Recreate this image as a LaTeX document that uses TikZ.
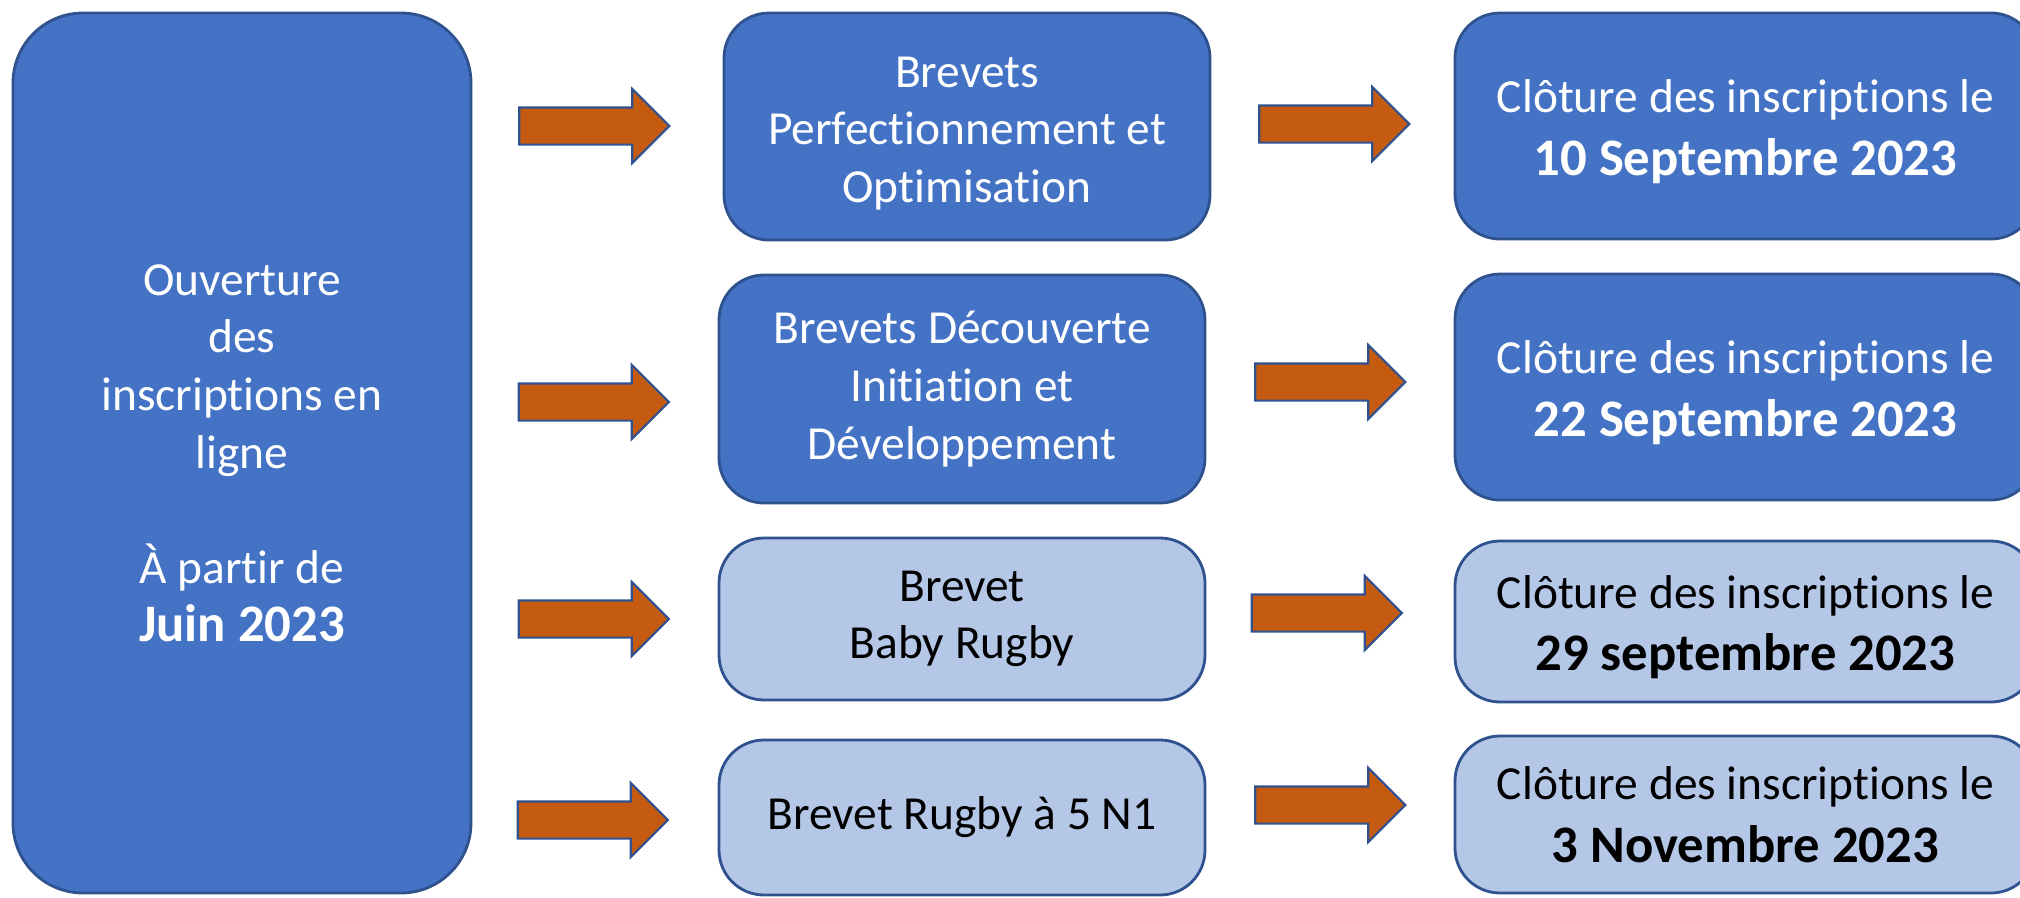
\documentclass[tikz,border=0pt]{standalone}
\usepackage{fontspec}
\setmainfont{Carlito}[Ligatures=NoCommon]
\usetikzlibrary{shapes.arrows}
\definecolor{boxblue}{HTML}{4472C4}
\definecolor{lineblue}{HTML}{2F528F}
\definecolor{paleblue}{HTML}{B4C7E7}
\definecolor{rust}{HTML}{C55A11}
\tikzset{
    darkbox/.style={draw=lineblue,line width=0.8pt,fill=boxblue,text=white,
        rounded corners=0.45cm,align=center,inner sep=0pt,
        font=\fontsize{13.5}{16.4}\selectfont},
    lightbox/.style={darkbox,fill=paleblue,text=black},
    blockarr/.style={single arrow,draw=lineblue,line width=0.6pt,fill=rust,
        minimum height=1.5cm,minimum width=0.72cm,inner xsep=0pt,inner ysep=0.175cm,
        single arrow head extend=0.185cm}
}
\newcommand{\datebf}[1]{{\fontsize{15}{17}\selectfont\bfseries #1}}
\newcommand{\topgap}{\rule{0pt}{12.6pt}}
\begin{document}
\begin{tikzpicture}
    \clip (0,0) rectangle (20.2,-8.97);
    \node[darkbox,minimum width=4.58cm,minimum height=8.8cm,rounded corners=0.7cm] (open) at (2.42,-4.53)
        {Ouverture\\des\\inscriptions en\\ligne\\[16.4pt]À partir de\\\datebf{Juin 2023}};
    \node[darkbox,minimum width=4.86cm,minimum height=2.27cm] (perf) at (9.67,-1.265)
        {\topgap Brevets\\Perfectionnement et\\Optimisation};
    \node[darkbox,minimum width=4.86cm,minimum height=2.28cm] (decouv) at (9.62,-3.89)
        {Brevets Découverte\\Initiation et\\Développement};
    \node[lightbox,minimum width=4.86cm,minimum height=1.62cm] (baby) at (9.62,-6.19)
        {Brevet\\Baby Rugby};
    \node[lightbox,minimum width=4.86cm,minimum height=1.55cm] (five) at (9.62,-8.175)
        {Brevet Rugby à 5 N1};
    \node[darkbox,minimum width=5.81cm,minimum height=2.26cm] (closeA) at (17.455,-1.26)
        {\topgap Clôture des inscriptions le\\[1.4pt]\datebf{10 Septembre 2023}};
    \node[darkbox,minimum width=5.81cm,minimum height=2.26cm] (closeB) at (17.455,-3.87)
        {\topgap Clôture des inscriptions le\\[1.4pt]\datebf{22 Septembre 2023}};
    \node[lightbox,minimum width=5.81cm,minimum height=1.61cm] (closeC) at (17.455,-6.215)
        {\topgap Clôture des inscriptions le\\[1.4pt]\datebf{29 septembre 2023}};
    \node[lightbox,minimum width=5.81cm,minimum height=1.57cm] (closeD) at (17.455,-8.145)
        {Clôture des inscriptions le\\[1.4pt]\datebf{3 Novembre 2023}};
    \node[blockarr] (arA) at (5.85,-1.26) {};
    \node[blockarr] (arB) at (5.845,-4.02) {};
    \node[blockarr] (arC) at (5.845,-6.19) {};
    \node[blockarr] (arD) at (5.835,-8.20) {};
    \node[blockarr] (arE) at (13.25,-1.24) {};
    \node[blockarr] (arF) at (13.21,-3.82) {};
    \node[blockarr] (arG) at (13.175,-6.13) {};
    \node[blockarr] (arH) at (13.21,-8.05) {};
\end{tikzpicture}
\end{document}
